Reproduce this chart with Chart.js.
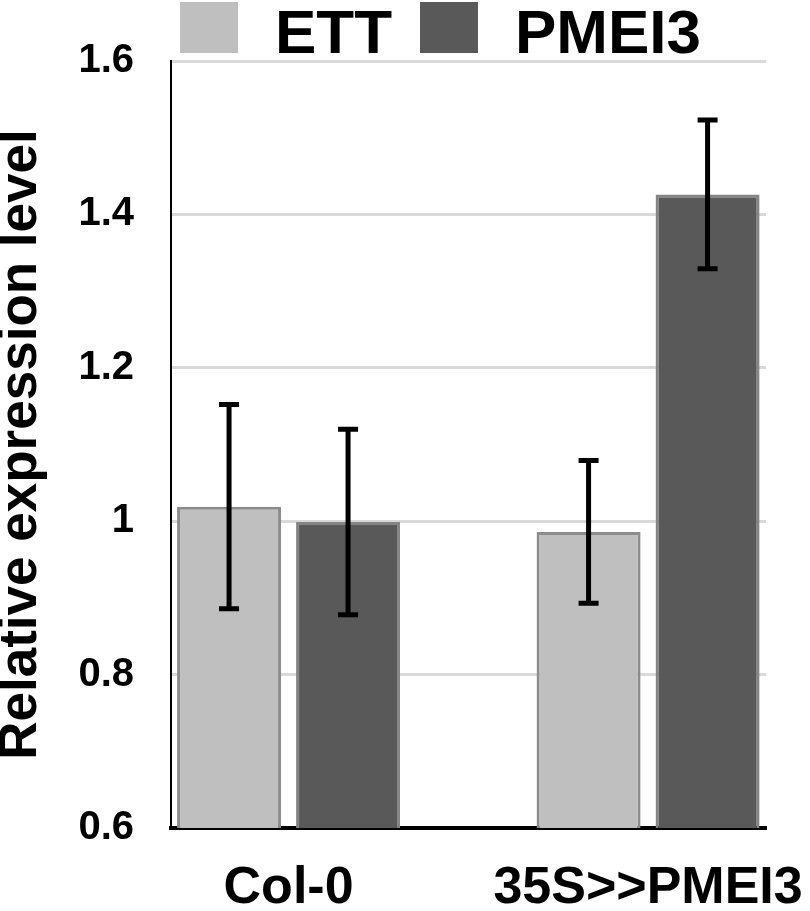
<!DOCTYPE html>
<html>
<head>
<meta charset="utf-8">
<script src="https://cdn.jsdelivr.net/npm/chart.js@4.4.1/dist/chart.umd.min.js"></script>
<style>
  html, body { margin: 0; padding: 0; background: #fff; }
  #wrap { width: 810px; height: 911px; }
</style>
</head>
<body>
<div id="wrap"><canvas id="barChart"></canvas></div>
<script>
const categories = ['Col-0', '35S>>PMEI3'];
const seriesNames = ['ETT', 'PMEI3'];
const ettMeans = [1.019, 0.986];
const ettErrors = [0.133, 0.093];
const pmei3Means = [0.999, 1.426];
const pmei3Errors = [0.121, 0.097];
const yTicks = [0.6, 0.8, 1.0, 1.2, 1.4, 1.6];
const yTickLabels = ['0.6', '0.8', '1', '1.2', '1.4', '1.6'];

const FONT = '"Liberation Sans", Arial, sans-serif';

// whiskers, drawn from each bar through the y scale
const errorBars = {
  id: 'errorBars',
  afterDatasetsDraw(chart) {
    const ctx = chart.ctx;
    const y = chart.scales.y;
    ctx.save();
    ctx.strokeStyle = '#000';
    ctx.lineWidth = 5;
    chart.data.datasets.forEach((ds, di) => {
      const meta = chart.getDatasetMeta(di);
      meta.data.forEach((bar, i) => {
        const top = y.getPixelForValue(ds.data[i].y + ds.errors[i]);
        const bottom = y.getPixelForValue(ds.data[i].y - ds.errors[i]);
        ctx.beginPath();
        ctx.moveTo(bar.x, top); ctx.lineTo(bar.x, bottom);
        ctx.moveTo(bar.x - 10, top); ctx.lineTo(bar.x + 10, top);
        ctx.moveTo(bar.x - 10, bottom); ctx.lineTo(bar.x + 10, bottom);
        ctx.stroke();
      });
    });
    ctx.restore();
  }
};

// legend above the plot, left aligned like the original
const topLegend = {
  id: 'topLegend',
  afterDraw(chart) {
    const ctx = chart.ctx;
    const spots = [{ box: 180, text: 275 }, { box: 420, text: 515 }];
    ctx.save();
    ctx.font = 'bold 62px ' + FONT;
    ctx.textBaseline = 'alphabetic';
    chart.data.datasets.forEach((ds, i) => {
      ctx.fillStyle = ds.backgroundColor;
      ctx.fillRect(spots[i].box, 2, 58, 51);
      ctx.fillStyle = '#000';
      ctx.fillText(ds.label, spots[i].text, 53);
    });
    ctx.restore();
  }
};

const ctx = document.getElementById('barChart').getContext('2d');
const chart = new Chart(ctx, {
  type: 'bar',
  data: {
    datasets: [{
      label: seriesNames[0],
      data: categories.map((c, i) => ({ x: i, y: ettMeans[i] })),
      errors: ettErrors,
      backgroundColor: '#bfbfbf',
      borderColor: '#8c8c8c',
      borderWidth: 3,
    }, {
      label: seriesNames[1],
      data: categories.map((c, i) => ({ x: i, y: pmei3Means[i] })),
      errors: pmei3Errors,
      backgroundColor: '#595959',
      borderColor: '#858585',
      borderWidth: 3,
    }]
  },
  options: {
    responsive: true,
    maintainAspectRatio: false,
    animation: false,
    categoryPercentage: 0.662,
    barPercentage: 0.874,
    layout: { padding: { top: 60, right: 44, bottom: 0, left: 0 } },
    plugins: {
      legend: { display: false },
      tooltip: { enabled: false },
    },
    scales: {
      x: {
        type: 'linear',
        offset: false,
        min: -0.327,
        max: 1.328,
        afterBuildTicks: (s) => { s.ticks = categories.map((c, i) => ({ value: i })); },
        afterFit: (s) => { s.height = 83; s.paddingLeft = 0; s.paddingRight = 0; },
        grid: { display: false, drawTicks: false, offset: false },
        border: { display: true, color: '#000', width: 4 },
        ticks: {
          callback: (v, i) => categories[i],
          color: '#000',
          font: { family: FONT, size: 52, weight: 'bold', lineHeight: 1 },
          padding: 35,
          maxRotation: 0,
          autoSkip: false,
        }
      },
      y: {
        min: 0.6,
        max: 1.6,
        afterBuildTicks: (s) => { s.ticks = yTicks.map(v => ({ value: v })); },
        afterFit: (s) => { s.width = 171; },
        grid: { color: '#d9d9d9', lineWidth: 3, drawTicks: false },
        border: { display: true, color: '#000', width: 2 },
        ticks: {
          callback: (v, i) => yTickLabels[i],
          color: '#000',
          font: { family: FONT, size: 40, weight: 'bold' },
          padding: 37,
        },
        title: {
          display: true,
          text: 'Relative expression level',
          color: '#000',
          font: { family: FONT, size: 53, weight: 'bold', lineHeight: 0.8 },
          padding: 0,
        }
      }
    }
  },
  plugins: [errorBars, topLegend]
});
</script>
</body>
</html>
